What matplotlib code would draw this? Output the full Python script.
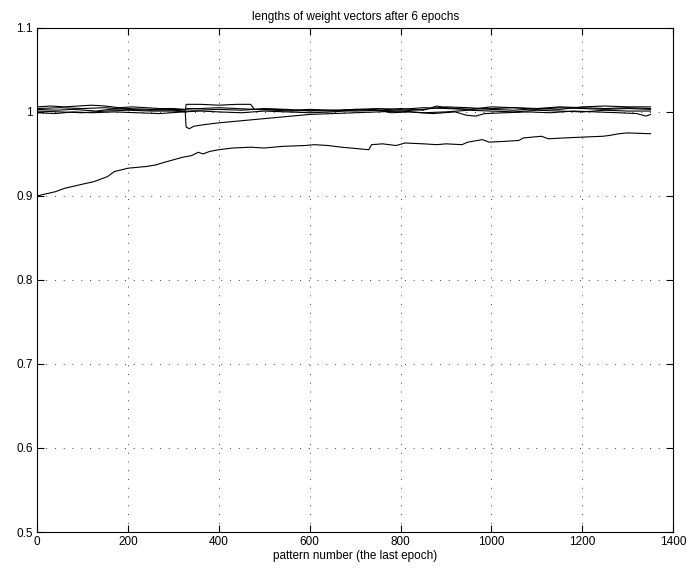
import matplotlib
matplotlib.use("Agg")
import matplotlib.pyplot as plt

plt.rcParams["font.family"] = ["Liberation Sans", "DejaVu Sans"]

# lengths of the six weight vectors over the patterns of the last epoch
x_a = [0, 30, 60, 90, 120, 150, 180, 210, 240, 270, 300, 326, 330, 360, 400, 440, 480,
       520, 560, 600, 650, 700, 750, 800, 850, 900, 950, 1000, 1050, 1100, 1150, 1200,
       1250, 1300, 1350]
y_a = [1.006, 1.007, 1.006, 1.007, 1.008, 1.007, 1.005, 1.006, 1.005, 1.004, 1.004,
       1.003, 1.004, 1.004, 1.005, 1.004, 1.003, 1.003, 1.002, 1.003, 1.002, 1.003,
       1.004, 1.003, 1.005, 1.004, 1.003, 1.004, 1.005, 1.004, 1.006, 1.005, 1.004,
       1.005, 1.004]

x_b = [0, 40, 80, 130, 160, 200, 250, 300, 326, 328, 360, 400, 440, 470, 478, 520, 560,
       600, 650, 700, 750, 800, 850, 900, 950, 1000, 1050, 1100, 1150, 1200, 1250, 1300,
       1350]
y_b = [1.003, 1.002, 1.003, 1.001, 1.003, 1.004, 1.003, 1.002, 1.001, 1.009, 1.009,
       1.008, 1.009, 1.009, 1.003, 1.002, 1.001, 1.002, 1.001, 1.003, 1.002, 1.001,
       1.003, 1.006, 1.005, 1.003, 1.002, 1.004, 1.003, 1.006, 1.007, 1.006, 1.006]

x_c = [0, 50, 100, 150, 200, 250, 300, 326, 328, 335, 345, 370, 400, 440, 480, 520, 560,
       600, 650, 700, 750, 800, 850, 900, 950, 1000, 1050, 1100, 1150, 1200, 1250, 1300,
       1350]
y_c = [1.001, 1.000, 0.999, 1.001, 1.002, 1.001, 1.001, 1.000, 0.982, 0.980, 0.983,
       0.985, 0.987, 0.989, 0.991, 0.993, 0.995, 0.997, 0.998, 0.999, 1.000, 1.001,
       0.999, 1.000, 1.002, 1.001, 1.000, 1.002, 1.001, 1.000, 1.002, 1.001, 1.001]

x_d = [0, 40, 80, 120, 170, 220, 270, 320, 360, 400, 450, 500, 550, 600, 650, 700, 740,
       780, 820, 870, 920, 945, 965, 985, 1030, 1080, 1130, 1180, 1230, 1280, 1320, 1340,
       1350]
y_d = [0.999, 0.998, 1.000, 0.999, 1.000, 0.999, 0.998, 1.000, 1.001, 1.000, 0.999,
       1.001, 1.000, 0.999, 1.000, 1.002, 1.003, 0.999, 1.000, 0.998, 1.000, 0.996,
       0.995, 0.998, 0.999, 1.000, 0.999, 1.001, 1.000, 0.999, 0.998, 0.995, 0.997]

x_e = [0, 50, 100, 150, 200, 250, 300, 350, 400, 450, 500, 550, 600, 650, 700, 750, 800,
       850, 880, 900, 950, 1000, 1050, 1100, 1150, 1200, 1250, 1300, 1350]
y_e = [1.004, 1.005, 1.004, 1.005, 1.003, 1.002, 1.003, 1.002, 1.003, 1.002, 1.004,
       1.003, 1.001, 1.002, 1.001, 1.002, 1.004, 1.002, 1.007, 1.005, 1.003, 1.006,
       1.005, 1.003, 1.005, 1.004, 1.003, 1.004, 1.003]

x_f = [0, 40, 60, 100, 125, 140, 155, 170, 200, 240, 262, 280, 300, 320, 340, 355, 365,
       380, 400, 430, 470, 500, 540, 590, 610, 640, 670, 690, 710, 730, 736, 760, 790,
       810, 850, 880, 900, 935, 948, 980, 995, 1030, 1060, 1070, 1110, 1125, 1160, 1200,
       1245, 1260, 1280, 1300, 1350]
y_f = [0.900, 0.905, 0.909, 0.914, 0.917, 0.920, 0.923, 0.929, 0.933, 0.935, 0.937,
       0.940, 0.943, 0.946, 0.948, 0.952, 0.950, 0.953, 0.955, 0.957, 0.958, 0.957,
       0.959, 0.960, 0.961, 0.960, 0.958, 0.957, 0.956, 0.955, 0.961, 0.962, 0.960,
       0.963, 0.962, 0.961, 0.962, 0.961, 0.964, 0.967, 0.964, 0.965, 0.966, 0.969,
       0.971, 0.968, 0.969, 0.970, 0.971, 0.972, 0.974, 0.975, 0.974]

series = [(x_a, y_a), (x_b, y_b), (x_c, y_c), (x_d, y_d), (x_e, y_e), (x_f, y_f)]

fig = plt.figure(figsize=(6.87, 5.69), dpi=100)
ax = fig.add_axes([0.054, 0.065, 0.926, 0.886])

for xs, ys in series:
    ax.plot(xs, ys, color="black", linewidth=0.8)

ax.set_xlim(0, 1400)
ax.set_ylim(0.5, 1.1)
ax.set_xticks(range(0, 1401, 200))
ax.set_yticks([0.5, 0.6, 0.7, 0.8, 0.9, 1.0, 1.1])
ax.set_yticklabels(["0.5", "0.6", "0.7", "0.8", "0.9", "1", "1.1"])
ax.grid(True, color="0.25", linestyle=(0, (1, 8)), linewidth=0.7)
ax.tick_params(direction="in", top=True, right=True, length=5, width=0.8,
               labelsize=8.5, pad=3)
for spine in ax.spines.values():
    spine.set_linewidth(0.8)

ax.set_title("lengths of weight vectors after 6 epochs", fontsize=8.5, pad=6)
ax.set_xlabel("pattern number (the last epoch)", fontsize=8.5, labelpad=1)

fig.savefig("out.png", dpi=100)
